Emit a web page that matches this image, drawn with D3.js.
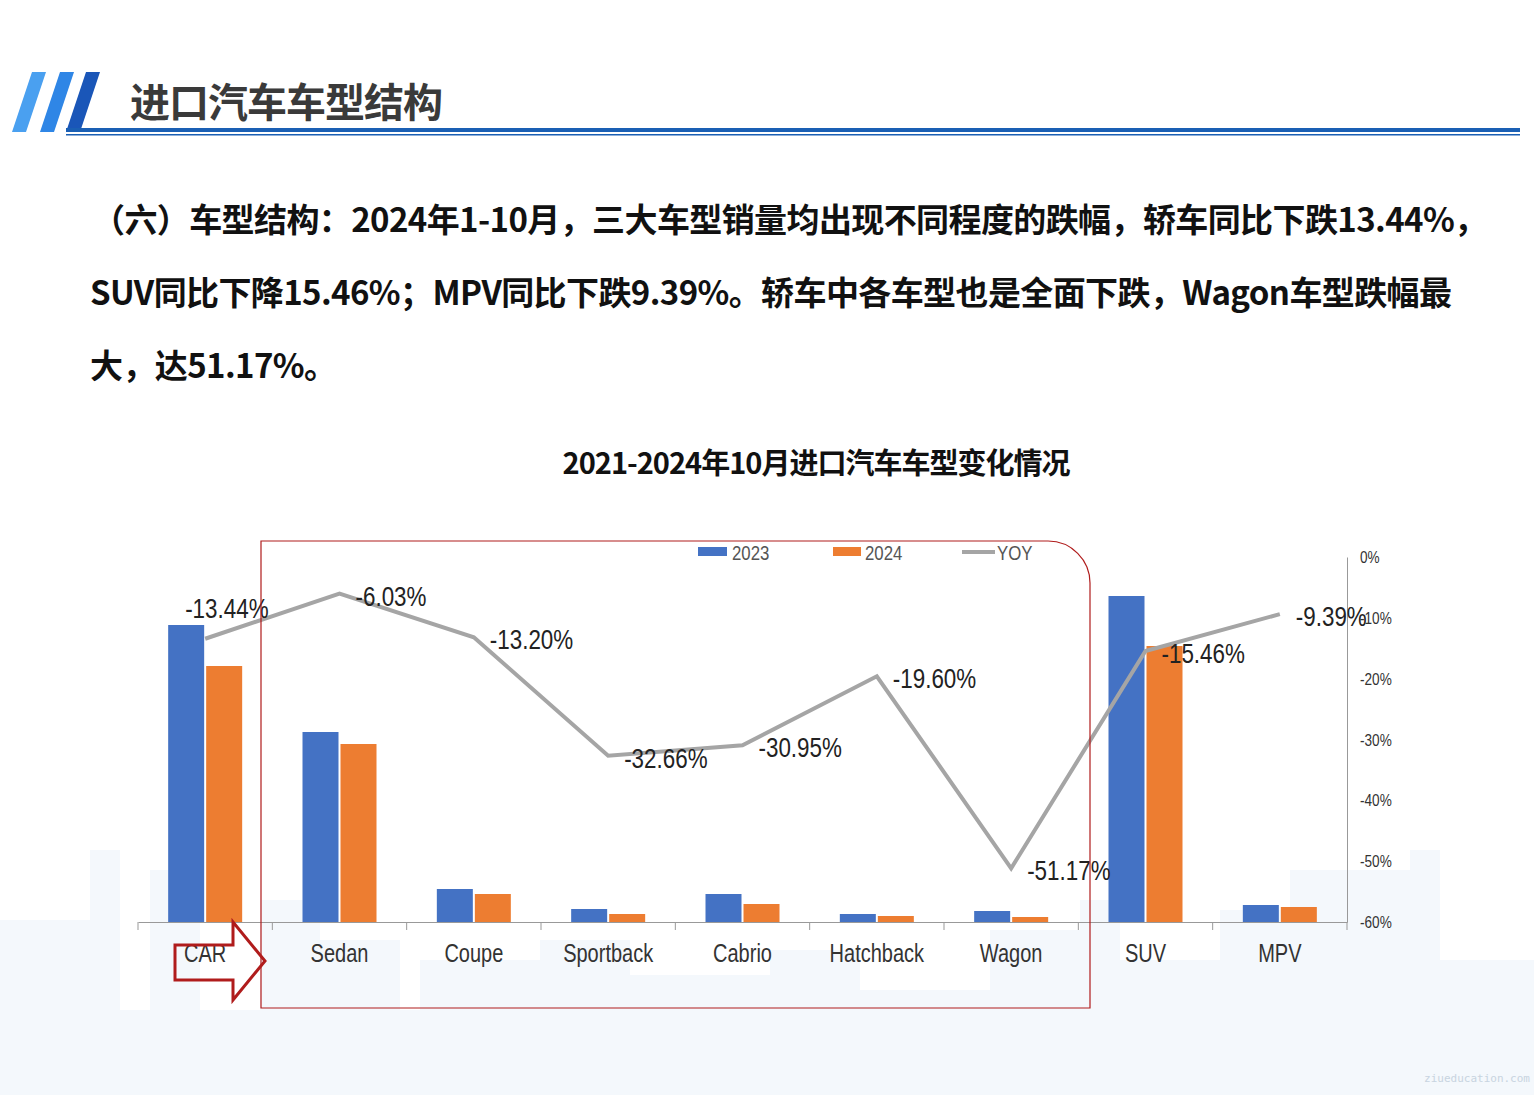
<!DOCTYPE html>
<html><head><meta charset="utf-8">
<script src="https://cdn.jsdelivr.net/npm/d3@7"></script>
<style>body{margin:0;background:#fff}svg{display:block}</style>
</head><body>
<svg id="c" width="1534" height="1095"></svg>
<script>
const categories=["CAR","Sedan","Coupe","Sportback","Cabrio","Hatchback","Wagon","SUV","MPV"];
const sales2023=[29.7,19.0,3.3,1.3,2.8,0.8,1.1,32.6,1.7];
const sales2024=[25.6,17.8,2.8,0.8,1.8,0.6,0.5,27.6,1.5];
const yoy=[-13.44,-6.03,-13.20,-32.66,-30.95,-19.60,-51.17,-15.46,-9.39];
const yoyTicks=[0,-10,-20,-30,-40,-50,-60];
const svg=d3.select("#c");
const CN="'Noto Sans CJK SC',sans-serif", NR="'Liberation Sans',sans-serif";
const SX=0.8;
function ntext(parent,x,y,t,size,anchor,fill){
  return parent.append("text").attr("transform",`translate(${x},${y}) scale(${SX},1)`).attr("text-anchor",anchor||"start")
   .attr("font-family",NR).attr("font-size",size).attr("fill",fill||"#222").text(t);
}
// background skyline
const bg=svg.append("g").attr("fill","#dce9f8").attr("opacity",0.3);
[[0,920,90,175],[90,850,30,245],[150,870,50,225],[260,900,60,195],[320,940,80,155],[420,960,120,135],[540,940,90,155],[630,975,140,120],[770,950,90,145],[860,990,130,105],[990,930,90,165],[1080,900,40,195],[1120,960,100,135],[1220,910,70,185],[1290,870,120,225],[1410,850,30,245],[1440,960,94,135],[0,1010,1534,85]].forEach(r=>bg.append("rect").attr("x",r[0]).attr("y",r[1]).attr("width",r[2]).attr("height",r[3]));
// header
[[12,"#4aa0f0"],[40,"#2f86e6"],[66,"#1a56b8"]].forEach(([x,c])=>svg.append("polygon").attr("points",`${x+20},72 ${x+34},72 ${x+14},132 ${x},132`).attr("fill",c));
svg.append("rect").attr("x",66).attr("y",128).attr("width",1454).attr("height",4).attr("fill","#1a5fb4");
svg.append("rect").attr("x",66).attr("y",134).attr("width",1454).attr("height",1.5).attr("fill","#1a5fb4");
svg.append("text").attr("x",130).attr("y",117).attr("font-family",CN).attr("font-weight",700).attr("font-size",40).attr("fill","#3a3a3a").attr("letter-spacing",-1).text("进口汽车车型结构");
const para=["（六）车型结构：2024年1-10月，三大车型销量均出现不同程度的跌幅，轿车同比下跌13.44%，","SUV同比下降15.46%；MPV同比下跌9.39%。轿车中各车型也是全面下跌，Wagon车型跌幅最","大，达51.17%。"];
const px=[92,90,90];
para.forEach((t,i)=>svg.append("text").attr("x",px[i]).attr("y",232+i*73).attr("font-family",CN).attr("font-weight",700).attr("font-size",33).attr("fill","#111").attr("letter-spacing",-0.6).text(t));
svg.append("text").attr("x",816).attr("y",474).attr("text-anchor","middle").attr("font-family",CN).attr("font-weight",700).attr("font-size",29).attr("fill","#111").attr("letter-spacing",-1).text("2021-2024年10月进口汽车车型变化情况");
// scales
const x=d3.scaleBand().domain(categories).range([138,1347]);
const yL=d3.scaleLinear().domain([0,36.5]).range([922,557]);
const yR=d3.scaleLinear().domain([-60,0]).range([922,557]);
const bw=36;
const g=svg.append("g");
categories.forEach((c,i)=>{
  const cx=x(c)+x.bandwidth()/2;
  g.append("rect").attr("x",cx-bw-1).attr("y",yL(sales2023[i])).attr("width",bw).attr("height",922-yL(sales2023[i])).attr("fill","#4472c4");
  g.append("rect").attr("x",cx+1).attr("y",yL(sales2024[i])).attr("width",bw).attr("height",922-yL(sales2024[i])).attr("fill","#ed7d31");
});
// x axis
const xa=svg.append("g").attr("transform","translate(0,922)").call(d3.axisBottom(x).tickSize(0).tickFormat(""));
xa.select(".domain").attr("stroke","#999");
categories.forEach(c=>ntext(svg,x(c)+x.bandwidth()/2,962,c,25,"middle","#333"));
categories.concat([null]).forEach(c=>{const xx=c?x(c):1347;svg.append("line").attr("x1",xx).attr("x2",xx).attr("y1",922).attr("y2",930).attr("stroke","#999");});
// right axis
const ya=svg.append("g").attr("transform","translate(1347,0)").call(d3.axisRight(yR).tickValues(yoyTicks).tickSize(0).tickFormat(""));
ya.select(".domain").attr("stroke","#999");
yoyTicks.forEach(t=>ntext(svg,1360,yR(t)+6,t+"%",17,"start","#333"));
// line
const line=d3.line().x((d,i)=>x(categories[i])+x.bandwidth()/2).y(d=>yR(d));
svg.append("path").datum(yoy).attr("d",line).attr("fill","none").attr("stroke","#a5a5a5").attr("stroke-width",4);
yoy.forEach((v,i)=>{
  const cx=x(categories[i])+x.bandwidth()/2;
  const dx=i==0?-20:16, dy=i==0?-31:2;
  ntext(svg,cx+dx,yR(v)+dy+10,v.toFixed(2)+"%",28,"start","#222");
});
// legend
const lg=svg.append("g");
lg.append("rect").attr("x",698).attr("y",547).attr("width",29).attr("height",9).attr("fill","#4472c4");
ntext(lg,732,560,"2023",21,"start","#555");
lg.append("rect").attr("x",833).attr("y",547).attr("width",28).attr("height",9).attr("fill","#ed7d31");
ntext(lg,865,560,"2024",21,"start","#555");
lg.append("line").attr("x1",962).attr("x2",995).attr("y1",552).attr("y2",552).attr("stroke","#a5a5a5").attr("stroke-width",4);
ntext(lg,997,560,"YOY",21,"start","#555");
// red box and arrow
svg.append("path").attr("d","M261,541 H1048 A42,42 0 0 1 1090,583 V1008 H261 Z").attr("fill","none").attr("stroke","#b01c1c").attr("stroke-width",1.2);
svg.append("path").attr("d","M175,945 H233 V922 L265,961 L233,1000 V980 H175 Z").attr("fill","none").attr("stroke","#b01c1c").attr("stroke-width",3);
svg.append("text").attr("x",1530).attr("y",1082).attr("text-anchor","end").attr("font-family","DejaVu Sans Mono").attr("font-size",11).attr("fill","#c8d4e0").text("ziueducation.com");
</script></body></html>
